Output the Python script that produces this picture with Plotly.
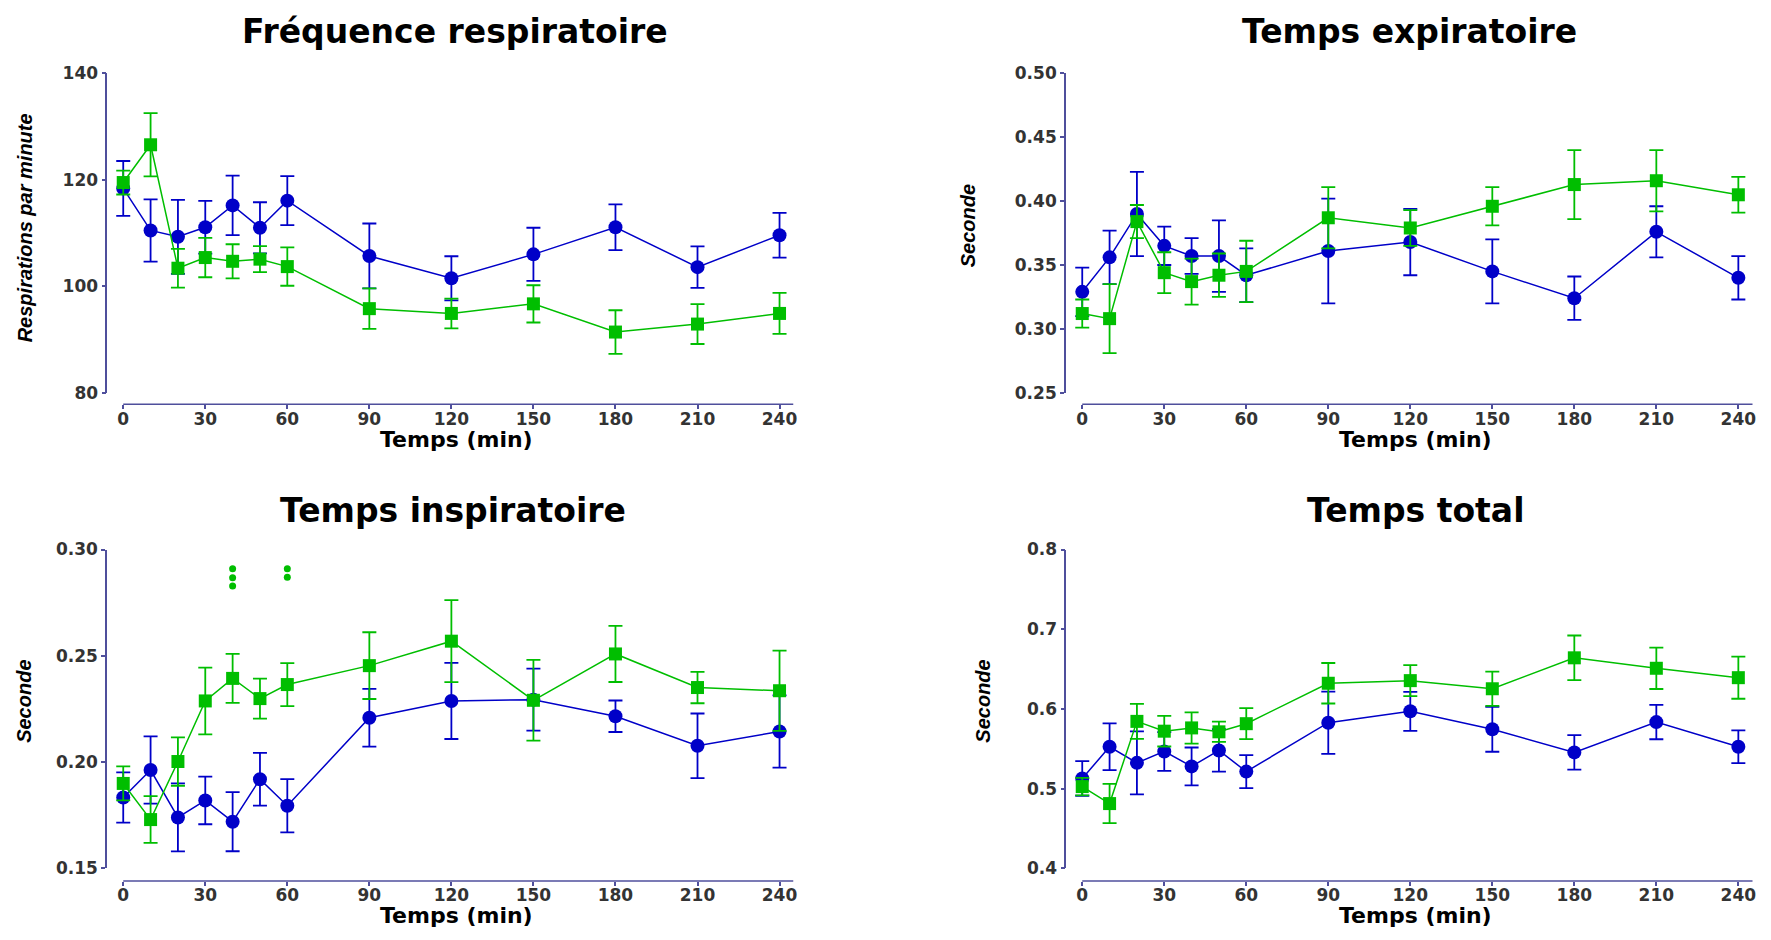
import plotly.graph_objects as go

# ---------------- data ----------------
times = [0, 10, 20, 30, 40, 50, 60, 90, 120, 150, 180, 210, 240]
x_ticks = [0, 30, 60, 90, 120, 150, 180, 210, 240]

# Fréquence respiratoire (respirations par minute)
freq_blue_mean = [118.4, 110.5, 109.3, 111.1, 115.2, 111.0, 116.1, 105.7, 101.5, 106.0, 111.1, 103.6, 109.6]
freq_blue_sem = [5.15, 5.85, 6.95, 4.95, 5.6, 4.8, 4.6, 6.1, 4.15, 5.0, 4.3, 3.9, 4.2]
freq_green_mean = [119.5, 126.6, 103.4, 105.4, 104.7, 105.1, 103.7, 95.8, 94.9, 96.7, 91.4, 92.9, 94.9]
freq_green_sem = [2.25, 5.95, 3.65, 3.7, 3.2, 2.45, 3.6, 3.8, 2.8, 3.5, 4.1, 3.75, 3.85]
freq_yticks = [80, 100, 120, 140]

# Temps expiratoire (s)
exp_blue_mean = [0.329, 0.356, 0.390, 0.365, 0.357, 0.357, 0.342, 0.361, 0.368, 0.345, 0.324, 0.376, 0.340]
exp_blue_sem = [0.019, 0.021, 0.033, 0.015, 0.014, 0.028, 0.021, 0.041, 0.026, 0.025, 0.017, 0.020, 0.017]
exp_green_mean = [0.312, 0.308, 0.384, 0.344, 0.337, 0.342, 0.345, 0.387, 0.379, 0.396, 0.413, 0.416, 0.405]
exp_green_sem = [0.011, 0.027, 0.013, 0.016, 0.018, 0.017, 0.024, 0.024, 0.014, 0.015, 0.027, 0.024, 0.014]
exp_yticks = [0.25, 0.30, 0.35, 0.40, 0.45, 0.50]

# Temps inspiratoire (s)
insp_blue_mean = [0.1834, 0.1963, 0.174, 0.182, 0.172, 0.192, 0.1795, 0.2209, 0.2288, 0.2294, 0.2216, 0.2077, 0.2144]
insp_blue_sem = [0.0118, 0.0158, 0.016, 0.0112, 0.0139, 0.0124, 0.0125, 0.0136, 0.0179, 0.0146, 0.0074, 0.0152, 0.017]
insp_green_mean = [0.190, 0.173, 0.2003, 0.2288, 0.2394, 0.2299, 0.2365, 0.2454, 0.2569, 0.2291, 0.2509, 0.2351, 0.2336]
insp_green_sem = [0.008, 0.011, 0.0114, 0.0157, 0.0115, 0.0094, 0.0101, 0.0157, 0.0193, 0.019, 0.0132, 0.0074, 0.0189]
insp_dots_x = [40, 40, 40, 60, 60]
insp_dots_y = [0.2910, 0.2867, 0.2828, 0.2910, 0.2870]
insp_yticks = [0.15, 0.20, 0.25, 0.30]

# Temps total (s)
tot_blue_mean = [0.5129, 0.5526, 0.5325, 0.5468, 0.528, 0.548, 0.5215, 0.5828, 0.5971, 0.5746, 0.5456, 0.5836, 0.5526]
tot_blue_sem = [0.0217, 0.0293, 0.0395, 0.0243, 0.0237, 0.0266, 0.0207, 0.0391, 0.0244, 0.0282, 0.0217, 0.0215, 0.0205]
tot_green_mean = [0.5027, 0.4814, 0.5845, 0.5722, 0.5763, 0.5714, 0.5816, 0.6323, 0.6356, 0.6254, 0.6642, 0.6511, 0.6393]
tot_green_sem = [0.011, 0.0246, 0.0219, 0.0192, 0.0196, 0.0127, 0.0194, 0.0254, 0.0194, 0.0214, 0.028, 0.026, 0.0264]
tot_yticks = [0.4, 0.5, 0.6, 0.7, 0.8]

titles = ["Fréquence respiratoire", "Temps expiratoire", "Temps inspiratoire", "Temps total"]
y_titles = ["Respirations par minute", "Seconde", "Seconde", "Seconde"]
x_title = "Temps (min)"

# ---------------- styling / geometry ----------------
PAGE_MARGIN = 8          # default body margin of the html page
WIN_W, WIN_H = 1771, 940
W, H = WIN_W - 2 * PAGE_MARGIN, WIN_H - 2 * PAGE_MARGIN
BLUE = "#0000C8"
GREEN = "#00BE00"
AXIS = "#4F4F9C"
TICKC = "#333333"
BOLD = "DejaVu Sans"
ARIAL = "Liberation Sans, Arial"


def px(x):
    """window pixel x -> paper fraction"""
    return (x - PAGE_MARGIN) / W


def py(y):
    """window pixel y -> paper fraction"""
    return 1 - (y - PAGE_MARGIN) / H


# geometry of each panel in window pixels (title: x centre, y top of text box)
geo = [
    dict(yax_x=107.5, x0=123.5, x240=781.3, xend=795.3, ytop=64.7, ybot=391.0, xline=402.7,
         title=(456, 0.5), xt=(458, 439), yt=(25, 222)),
    dict(yax_x=1068.3, x0=1084.7, x240=1742.3, xend=1756.7, ytop=64.7, ybot=391.0, xline=402.7,
         title=(1413, 0.5), xt=(1419, 439), yt=(971, 220)),
    dict(yax_x=107.3, x0=123.5, x240=781.3, xend=795.3, ytop=551.3, ybot=877.3, xline=890.0,
         title=(454, 490.5), xt=(458, 925), yt=(24, 706)),
    dict(yax_x=1068.7, x0=1084.7, x240=1742.3, xend=1756.7, ytop=551.3, ybot=877.3, xline=890.0,
         title=(1419, 490.5), xt=(1419, 925), yt=(985, 706)),
]

series = [
    (freq_blue_mean, freq_blue_sem, freq_green_mean, freq_green_sem, freq_yticks, [80, 140], None),
    (exp_blue_mean, exp_blue_sem, exp_green_mean, exp_green_sem, exp_yticks, [0.25, 0.50], ".2f"),
    (insp_blue_mean, insp_blue_sem, insp_green_mean, insp_green_sem, insp_yticks, [0.15, 0.30], ".2f"),
    (tot_blue_mean, tot_blue_sem, tot_green_mean, tot_green_sem, tot_yticks, [0.4, 0.8], ".1f"),
]

fig = go.Figure()
layout = dict(
    width=W, height=H, margin=dict(l=0, r=0, t=0, b=0),
    paper_bgcolor="white", plot_bgcolor="white", showlegend=False,
)
shapes = []
annotations = []

for i, (g, s) in enumerate(zip(geo, series)):
    n = "" if i == 0 else str(i + 1)
    xa, ya = "x" + n, "y" + n
    bm, bs, gm, gs, yt, yr, fmt = s
    ppm = (g["x240"] - g["x0"]) / 240.0
    xmin = (g["yax_x"] - g["x0"]) / ppm
    xmax = (g["xend"] - g["x0"]) / ppm

    layout["xaxis" + n] = dict(
        domain=[px(g["yax_x"]), px(g["xend"])], range=[xmin, xmax],
        anchor="free", position=py(g["xline"]), side="bottom",
        showline=False, showgrid=False, zeroline=False,
        tickmode="array", tickvals=x_ticks, ticks="outside", ticklen=4, tickwidth=1.5,
        ticklabelstandoff=-5,
        tickcolor=AXIS, tickfont=dict(family=BOLD, size=17, color=TICKC, weight="bold"),
    )
    layout["yaxis" + n] = dict(
        domain=[py(g["ybot"]), py(g["ytop"])], range=yr, anchor=xa,
        showline=True, linecolor=AXIS, linewidth=1.5, showgrid=False, zeroline=False,
        tickmode="array", tickvals=yt, ticks="outside", ticklen=4, tickwidth=1.5,
        tickcolor=AXIS, tickfont=dict(family=BOLD, size=17, color=TICKC, weight="bold"),
    )
    if fmt:
        layout["yaxis" + n]["tickformat"] = fmt

    shapes.append(dict(type="line", xref=xa, yref="paper", x0=0, x1=xmax,
                       y0=py(g["xline"]), y1=py(g["xline"]),
                       line=dict(color=AXIS, width=1.5), layer="above"))

    fig.add_trace(go.Scatter(
        x=times, y=bm, xaxis=xa, yaxis=ya, mode="lines+markers",
        line=dict(color=BLUE, width=1.5),
        marker=dict(symbol="circle", size=14, color=BLUE),
        error_y=dict(type="data", array=bs, visible=True, color=BLUE, thickness=1.8, width=7),
        cliponaxis=False,
    ))
    fig.add_trace(go.Scatter(
        x=times, y=gm, xaxis=xa, yaxis=ya, mode="lines+markers",
        line=dict(color=GREEN, width=1.5),
        marker=dict(symbol="square", size=13, color=GREEN),
        error_y=dict(type="data", array=gs, visible=True, color=GREEN, thickness=1.8, width=7),
        cliponaxis=False,
    ))
    if i == 2:
        fig.add_trace(go.Scatter(
            x=insp_dots_x, y=insp_dots_y, xaxis=xa, yaxis=ya, mode="markers",
            marker=dict(symbol="circle", size=7, color=GREEN), cliponaxis=False,
        ))

    annotations.append(dict(text=titles[i], xref="paper", yref="paper",
                            x=px(g["title"][0]), y=py(g["title"][1]),
                            xanchor="center", yanchor="top", showarrow=False, borderpad=0,
                            font=dict(family=BOLD, size=33, color="black", weight="bold")))
    annotations.append(dict(text=x_title, xref="paper", yref="paper",
                            x=px(g["xt"][0]), y=py(g["xt"][1]),
                            xanchor="center", yanchor="middle", showarrow=False,
                            font=dict(family=BOLD, size=22, color="black", weight="bold")))
    annotations.append(dict(text=y_titles[i], xref="paper", yref="paper",
                            x=px(g["yt"][0]), y=py(g["yt"][1]), textangle=-90,
                            xanchor="center", yanchor="middle", showarrow=False,
                            font=dict(family=ARIAL, size=20, color="black", style="italic",
                                      weight="bold")))

layout["shapes"] = shapes
layout["annotations"] = annotations
fig.update_layout(**layout)
fig.write_html("out.html")
